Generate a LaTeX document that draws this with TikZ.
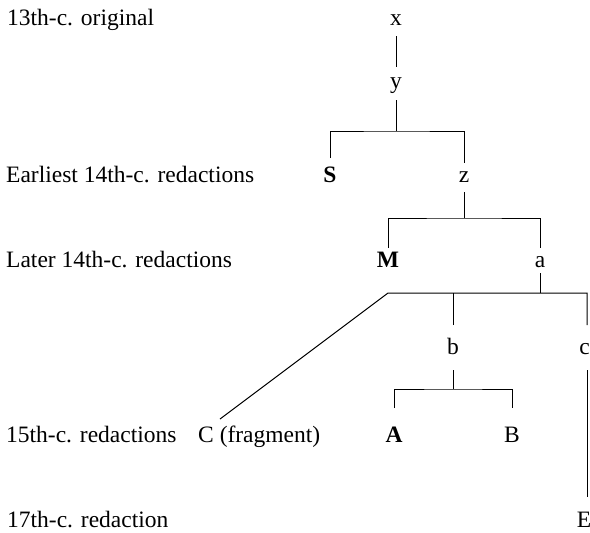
\documentclass[tikz,border=0pt]{standalone}
\usepackage{fontspec}
\setmainfont{Liberation Serif}
\begin{document}
\begin{tikzpicture}[x=1pt,y=-1pt,
  every node/.style={inner sep=0pt,anchor=base},
  lbl/.style={anchor=base west},
  ms/.style={font=\bfseries},
  link/.style={draw=black,line width=1pt}]
\fontsize{23.5}{28}\selectfont
\useasboundingbox[fill=white] (0,0) rectangle (590,533);

% period labels on the left
\node[lbl] (l1) at (7,25)  {13th-c. original};
\node[lbl] (l2) at (6,182) {Earliest 14th-c. redactions};
\node[lbl] (l3) at (6,267) {Later 14th-c. redactions};
\node[lbl] (l4) at (6,442) {15th-c. redactions};
\node[lbl] (l5) at (7,527) {17th-c. redaction};

% witnesses and hypothetical ancestors
\node (x) at (396,25)  {x};
\node (y) at (396,88)  {y};
\node[ms] (S) at (330,182) {S};
\node (z) at (464,182) {z};
\node[ms] (M) at (388,267) {M};
\node (a) at (540,267) {a};
\node (b) at (453,354) {b};
\node (c) at (584.5,354) {c};
\node[lbl] (C) at (198,442) {C (fragment)};
\node[ms] (A) at (394,442) {A};
\node (B) at (512,442) {B};
\node (E) at (584,527) {E};

% branching points
\coordinate (f1) at (396,131);
\coordinate (f2) at (464,218);
\coordinate (f3) at (540,293);
\coordinate (k)  at (388,293);
\coordinate (f4) at (453,389);
\coordinate (cl) at (587,354);

% stemma
\draw[link] ([yshift=-11pt]x.base) -- ([yshift=21pt]y.base);
\draw[link] ([yshift=-12pt]y.base) -- (f1);
\draw[link] ([yshift=24pt]S.base) |- (f1) -| ([yshift=19pt]z.base);
\draw[link] ([yshift=-10pt]z.base) -- (f2);
\draw[link] ([yshift=19pt]M.base) |- (f2) -| ([yshift=19pt]a.base);
\draw[link] ([yshift=-6pt]a.base) -- (f3);
\draw[link] ([xshift=22pt,yshift=23pt]C.base west) -- (k) -| ([yshift=29pt]cl);
\draw[link] ([yshift=29pt]b.base) -- (b.base |- k);
\draw[link] ([yshift=-16pt]b.base) -- (f4);
\draw[link] ([yshift=34pt]A.base) |- (f4) -| ([yshift=34pt]B.base);
\draw[link] ([yshift=-16pt]cl) -- ([yshift=30pt]cl |- E.base);
\end{tikzpicture}
\end{document}
